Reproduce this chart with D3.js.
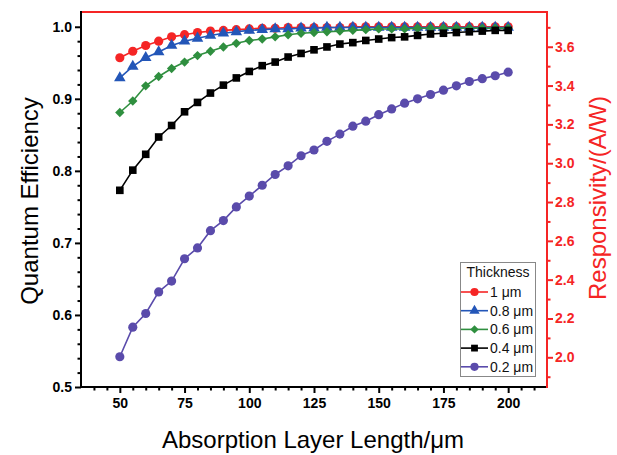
<!DOCTYPE html>
<html lang="en">
    <head>
        <meta charset="utf-8">
        <title>Quantum Efficiency vs Absorption Layer Length</title>
        <script type="text/javascript" src="https://d3js.org/d3.v7.min.js"></script>
        <style type="text/css">
            body {
                margin: 0;
                background: #fff;
            }
            text {
                font-family: Arial, "Liberation Sans", Helvetica, sans-serif;
            }
            .tick-label {
                font-size: 14px;
                font-weight: bold;
            }
            .title {
                font-size: 24px;
            }
            .legend text {
                font-size: 14px;
            }
        </style>
    </head>

    <body>
        <script type="text/javascript">

            // data
            const lengths = [50, 55, 60, 65, 70, 75, 80, 85, 90, 95, 100, 105, 110, 115, 120, 125,
                             130, 135, 140, 145, 150, 155, 160, 165, 170, 175, 180, 185, 190, 195, 200];

            const qe1um = [0.957, 0.966, 0.974, 0.980, 0.986, 0.989, 0.992, 0.994, 0.995, 0.996, 0.997,
                           0.998, 0.998, 0.999, 0.999, 0.999, 0.999, 0.999, 1.000, 1.000, 1.000, 1.000,
                           1.000, 1.000, 1.000, 1.000, 1.000, 1.000, 1.000, 1.000, 1.000];
            const qe08um = [0.929, 0.945, 0.957, 0.965, 0.974, 0.980, 0.984, 0.988, 0.991, 0.993, 0.995,
                            0.996, 0.997, 0.997, 0.998, 0.998, 0.999, 0.999, 0.999, 0.999, 0.999, 0.999,
                            0.999, 0.999, 0.999, 0.999, 0.999, 0.999, 0.999, 0.999, 0.999];
            const qe06um = [0.881, 0.897, 0.918, 0.931, 0.942, 0.951, 0.960, 0.966, 0.972, 0.977, 0.981,
                            0.983, 0.986, 0.989, 0.991, 0.992, 0.993, 0.994, 0.995, 0.996, 0.997, 0.997,
                            0.997, 0.998, 0.998, 0.998, 0.998, 0.998, 0.998, 0.998, 0.998];
            const qe04um = [0.773, 0.801, 0.823, 0.847, 0.863, 0.882, 0.895, 0.908, 0.919, 0.929, 0.938,
                            0.946, 0.951, 0.958, 0.963, 0.968, 0.972, 0.976, 0.978, 0.981, 0.983, 0.985,
                            0.986, 0.988, 0.990, 0.991, 0.992, 0.993, 0.994, 0.995, 0.995];
            const qe02um = [0.542, 0.583, 0.602, 0.632, 0.647, 0.678, 0.693, 0.717, 0.731, 0.750, 0.765,
                            0.780, 0.795, 0.807, 0.821, 0.829, 0.841, 0.851, 0.862, 0.869, 0.878, 0.886,
                            0.894, 0.900, 0.906, 0.912, 0.918, 0.924, 0.928, 0.932, 0.937];

            const seriesNames = ["1 \u03bcm", "0.8 \u03bcm", "0.6 \u03bcm", "0.4 \u03bcm", "0.2 \u03bcm"];
            const seriesValues = [qe1um, qe08um, qe06um, qe04um, qe02um];

            // tick values
            const xTicks = [50, 75, 100, 125, 150, 175, 200];
            const yTicks = [0.5, 0.6, 0.7, 0.8, 0.9, 1.0];
            const rTicks = [2.0, 2.2, 2.4, 2.6, 2.8, 3.0, 3.2, 3.4, 3.6];

            // styles per series
            const colors = ["#f52525", "#2356b8", "#2f8f3f", "#000000", "#5a4bab"];
            const symbols = [d3.symbolCircle, d3.symbolTriangle, d3.symbolSquare, d3.symbolSquare, d3.symbolCircle];
            const symbolSizes = [66, 58, 44, 58, 66];
            const symbolRotate = [0, 0, 45, 0, 0];
            const axisRed = "#f52525";

            const svgW = 617;
            const svgH = 455;
            const plotL = 81, plotR = 547, plotT = 12, plotB = 387;

            const x = d3.scaleLinear().domain([35, 215]).range([plotL, plotR]);
            const y = d3.scaleLinear().domain([0.5, 1.0205]).range([plotB, plotT]);
            const yR = d3.scaleLinear().domain([1.847, 3.779]).range([plotB, plotT]);

            const svg = d3.select("body")
                .append("svg")
                .attr("width", svgW)
                .attr("height", svgH);

            // minor tick values
            const xMinor = d3.range(40, 215, 5).filter(v => v % 25 !== 0);
            const yMinor = d3.range(52, 102, 2).map(v => v / 100).filter(v => Math.round(v * 100) % 10 !== 0);
            const rMinor = d3.range(19, 38, 2).map(v => v / 10);

            // bottom axis
            const bottomAxis = d3.axisBottom(x).tickValues(xTicks).tickSize(6).tickPadding(5).tickFormat(d3.format("d"));
            const gx = svg.append("g")
                .attr("transform", "translate(0," + plotB + ")")
                .call(bottomAxis);
            gx.selectAll(".tick line").attr("stroke-width", 2);
            gx.selectAll(".tick text").attr("class", "tick-label").attr("fill", "#000");
            gx.attr("font-size", null).attr("font-family", null);
            gx.select(".domain").remove();
            svg.append("g")
                .attr("transform", "translate(0," + plotB + ")")
                .call(d3.axisBottom(x).tickValues(xMinor).tickSize(3.5).tickFormat(""))
                .call(g => g.select(".domain").remove())
                .selectAll("line").attr("stroke-width", 2);

            // left axis
            const leftAxis = d3.axisLeft(y).tickValues(yTicks).tickSize(6).tickPadding(3).tickFormat(d3.format(".1f"));
            const gy = svg.append("g")
                .attr("transform", "translate(" + plotL + ",0)")
                .call(leftAxis);
            gy.selectAll(".tick line").attr("stroke-width", 2);
            gy.selectAll(".tick text").attr("class", "tick-label").attr("fill", "#000");
            gy.attr("font-size", null).attr("font-family", null);
            gy.select(".domain").remove();
            svg.append("g")
                .attr("transform", "translate(" + plotL + ",0)")
                .call(d3.axisLeft(y).tickValues(yMinor).tickSize(3.5).tickFormat(""))
                .call(g => g.select(".domain").remove())
                .selectAll("line").attr("stroke-width", 2);

            // right axis (red)
            const rightAxis = d3.axisRight(yR).tickValues(rTicks).tickSize(6).tickPadding(2).tickFormat(d3.format(".1f"));
            const gr = svg.append("g")
                .attr("transform", "translate(" + plotR + ",0)")
                .call(rightAxis);
            gr.selectAll(".tick line").attr("stroke", axisRed).attr("stroke-width", 2);
            gr.selectAll(".tick text").attr("class", "tick-label").attr("fill", axisRed);
            gr.attr("font-size", null).attr("font-family", null);
            gr.select(".domain").remove();
            svg.append("g")
                .attr("transform", "translate(" + plotR + ",0)")
                .call(d3.axisRight(yR).tickValues(rMinor).tickSize(3.5).tickFormat(""))
                .call(g => g.select(".domain").remove())
                .selectAll("line").attr("stroke", axisRed).attr("stroke-width", 2);

            // frame: top and right in red, left and bottom in black
            svg.append("line").attr("x1", plotL).attr("x2", plotR).attr("y1", plotT).attr("y2", plotT)
                .attr("stroke", axisRed).attr("stroke-width", 2);
            svg.append("line").attr("x1", plotR).attr("x2", plotR).attr("y1", plotT - 1).attr("y2", plotB + 1)
                .attr("stroke", axisRed).attr("stroke-width", 2);
            svg.append("line").attr("x1", plotL).attr("x2", plotL).attr("y1", plotT - 1).attr("y2", plotB + 1)
                .attr("stroke", "#000").attr("stroke-width", 2);
            svg.append("line").attr("x1", plotL - 1).attr("x2", plotR - 1).attr("y1", plotB).attr("y2", plotB)
                .attr("stroke", "#000").attr("stroke-width", 2);

            // series lines and markers
            const line = d3.line()
                .x((d, i) => x(lengths[i]))
                .y(d => y(d));

            seriesValues.forEach(function(vals, s) {
                const g = svg.append("g");
                g.append("path")
                    .datum(vals)
                    .attr("d", line)
                    .attr("fill", "none")
                    .attr("stroke", colors[s])
                    .attr("stroke-width", 1.6);
                g.selectAll("path.marker")
                    .data(vals)
                    .enter()
                    .append("path")
                    .attr("class", "marker")
                    .attr("d", d3.symbol().type(symbols[s]).size(symbolSizes[s]))
                    .attr("transform", (d, i) => "translate(" + x(lengths[i]) + "," + y(d) + ") rotate(" + symbolRotate[s] + ")")
                    .attr("fill", colors[s]);
            });

            // axis titles
            svg.append("text")
                .attr("class", "title")
                .attr("text-anchor", "middle")
                .attr("x", (plotL + plotR) / 2 - 1)
                .attr("y", 448)
                .attr("fill", "#000")
                .text("Absorption Layer Length/\u03bcm");

            svg.append("text")
                .attr("class", "title")
                .attr("text-anchor", "middle")
                .attr("transform", "translate(38,201) rotate(-90)")
                .attr("fill", "#000")
                .text("Quantum Efficiency");

            svg.append("text")
                .attr("class", "title")
                .attr("text-anchor", "middle")
                .attr("transform", "translate(606,198) rotate(-90)")
                .attr("fill", axisRed)
                .text("Responsivity/(A/W)");

            // legend
            const legend = svg.append("g").attr("class", "legend");
            legend.append("rect")
                .attr("x", 460.5).attr("y", 262.5)
                .attr("width", 75).attr("height", 114)
                .attr("fill", "#fff")
                .attr("stroke", "#888")
                .attr("stroke-width", 1);
            legend.append("text")
                .attr("x", 498).attr("y", 277)
                .attr("text-anchor", "middle")
                .attr("fill", "#111")
                .text("Thickness");

            seriesNames.forEach(function(name, s) {
                const ly = 292 + s * 18.7;
                legend.append("line")
                    .attr("x1", 461).attr("x2", 488)
                    .attr("y1", ly).attr("y2", ly)
                    .attr("stroke", colors[s])
                    .attr("stroke-width", 1.6);
                legend.append("path")
                    .attr("d", d3.symbol().type(symbols[s]).size(symbolSizes[s] * 0.8))
                    .attr("transform", "translate(474.5," + ly + ") rotate(" + symbolRotate[s] + ")")
                    .attr("fill", colors[s]);
                legend.append("text")
                    .attr("x", 490).attr("y", ly + 5)
                    .attr("fill", "#111")
                    .text(name);
            });

        </script>
    </body>
</html>
